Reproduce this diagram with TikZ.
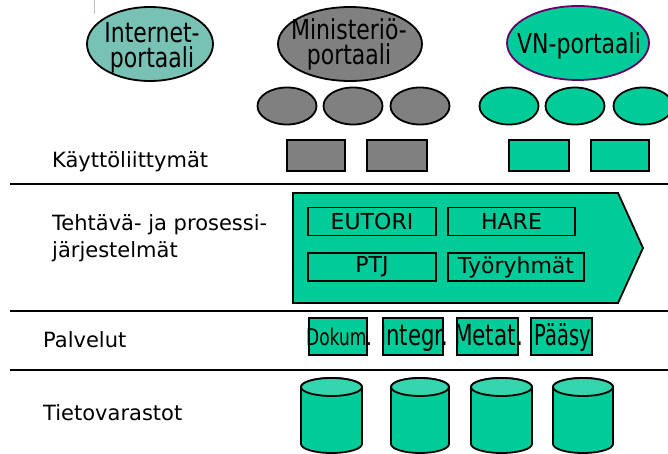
\documentclass[tikz,border=0pt]{standalone}
\usepackage{fontspec}
\setmainfont{DejaVu Sans}
\usetikzlibrary{calc,positioning,shapes.geometric}

\definecolor{vngreen}{RGB}{0,204,153}
\definecolor{netteal}{RGB}{119,193,181}
\definecolor{minigrey}{RGB}{128,128,128}
\definecolor{vnborder}{RGB}{102,0,102}
\definecolor{cyltop}{RGB}{51,214,173}

\newcommand{\narrowtext}[2][0.8]{\scalebox{#1}[1]{#2}}

\begin{document}
\begin{tikzpicture}[x=1pt, y=-1pt,
    portal/.style={ellipse, draw, line width=1.8pt, inner sep=0pt},
    ptext/.style={anchor=base, inner sep=0pt, font=\fontsize{27.5}{25}\selectfont},
    uibox/.style={rectangle, draw, line width=1.8pt, inner sep=0pt},
    sysbox/.style={rectangle, draw, line width=1.8pt, inner sep=0pt,
        minimum height=28, font=\fontsize{22}{26}\selectfont},
    layertext/.style={anchor=base west, align=left, inner sep=0pt,
        font=\fontsize{21}{27}\selectfont},
    layerline/.style={line width=2pt}
]
    \useasboundingbox (0,0) rectangle (668,454);
    \draw[gray!50] (94,0) -- (94,14);

    % portaalit
    \node[portal, fill=netteal, minimum width=126, minimum height=74] (inet) at (150,44) {};
    \node[portal, fill=minigrey, minimum width=144, minimum height=74] (mini) at (350,44) {};
    \node[portal, fill=vngreen, draw=vnborder, minimum width=142, minimum height=74] (vn) at (578,43) {};
    \node[ptext] (inet1) at (152,43) {\narrowtext{Internet-}};
    \node[ptext] (inet2) at (152,68) {\narrowtext{portaali}};
    \node[ptext] (mini1) at (349,40) {\narrowtext{Ministeriö-}};
    \node[ptext] (mini2) at (349,65) {\narrowtext{portaali}};
    \node[ptext] (vn1) at (579,54) {\narrowtext{VN-portaali}};

    \foreach \v/\x/\c in {g1/287/minigrey, g2/353/minigrey, g3/420/minigrey,
                          v1/509/vngreen, v2/575/vngreen, v3/643/vngreen}
    {
        \node[portal, fill=\c, minimum width=59, minimum height=37] (e\v) at (\x,106) {};
    };

    \foreach \v/\x/\w/\c in {g1/316/58/minigrey, g2/397/60/minigrey,
                             v1/539/60/vngreen, v2/620/58/vngreen}
    {
        \node[uibox, fill=\c, minimum width=\w, minimum height=31] (r\v) at (\x,155.5) {};
    };

    % kerrokset
    \coordinate (L1) at (10,184);
    \coordinate (L2) at (10,311);
    \coordinate (L3) at (10,370);
    \foreach \v in {L1,L2,L3}
    {
        \draw[layerline] (\v) -- (\v -| 668,0);
    };

    \node[layertext] (kl) at (52,168) {Käyttöliittymät};
    \node[layertext] (tp) at (52,257) {Tehtävä- ja prosessi-\\järjestelmät};
    \node[layertext] (pa) at (43,347) {Palvelut};
    \node[layertext] (tv) at (43,420) {Tietovarastot};

    % tehtava- ja prosessijarjestelmat
    \draw[line width=1.8pt, fill=vngreen] (293,193) -- (618,193) -- (643,248)
        -- (618,303) -- (293,303) -- cycle;
    \node[sysbox, minimum width=128] (eutori) at (372,221.5) {EUTORI};
    \node[sysbox, minimum width=127] (hare) at (511.5,221.5) {HARE};
    \node[sysbox, minimum width=128] (ptj) at (372,267) {PTJ};
    \node[sysbox, minimum width=136] (tr) at (516,267) {Työryhmät};

    % palvelut
    \foreach \v/\x/\w/\t/\s/\k in {dok/338/58/Dokum./23/0.74, int/413/60/Integr./29/0.73,
                                   met/487.5/61/Metat./29/0.745, paa/561.5/61/Pääsy/29/0.67}
    {
        \node[uibox, fill=vngreen, minimum width=\w, minimum height=37] (s\v) at (\x,336.5) {};
        \node[anchor=base, inner sep=0pt, font=\fontsize{\s}{\s}\selectfont] (t\v) at (\x+1,345) {\narrowtext[\k]{\t}};
    };

    % tietovarastot
    \foreach \v/\x/\r in {1/331.5/30.5, 2/420/29, 3/501.5/30.5, 4/583/30}
    {
        \draw[line width=1.8pt, fill=vngreen] (\x-\r,387) -- (\x-\r,444)
            arc[start angle=180, end angle=0, x radius=\r, y radius=9]
            -- (\x+\r,387) arc[start angle=0, end angle=-180, x radius=\r, y radius=9] -- cycle;
        \draw[line width=1.8pt, fill=cyltop] (\x,387) ellipse [x radius=\r, y radius=9];
    };
\end{tikzpicture}
\end{document}
